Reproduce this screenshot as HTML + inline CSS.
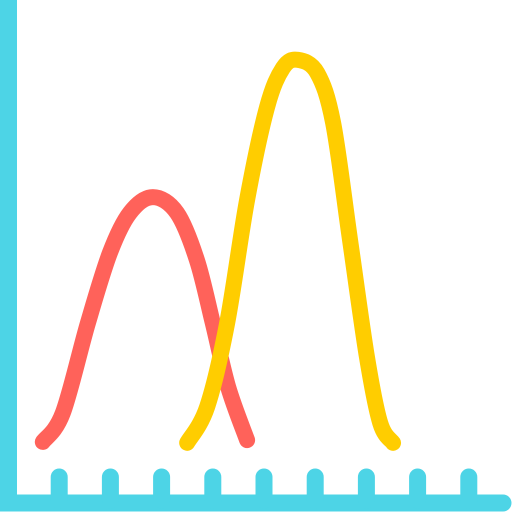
<!DOCTYPE html>
<html><head><meta charset="utf-8"><style>
html,body{margin:0;padding:0;background:#fff;width:512px;height:512px;overflow:hidden}
svg{display:block}
</style></head><body>
<svg id="chart" width="512" height="512" viewBox="0 0 512 512">
  <g id="axes">
    <line x1="8.5" y1="0" x2="8.5" y2="503" stroke="#4DD4E6" stroke-width="17"/>
    <line x1="0" y1="503" x2="503" y2="503" stroke="#4DD4E6" stroke-width="17" stroke-linecap="round"/>
  </g>
  <g id="ticks"></g>
  <g id="series"></g>
</svg>
<script>
const tickValues = [1,2,3,4,5,6,7,8,9];
const redX = [0.68,1.07,1.56,1.99,2.38,2.83,3.30,3.69,4.00,4.30,4.67];
const redY = [11.8,18.2,38.2,53.8,62.7,66.2,62.7,52.2,38.2,24,12.2];
const yellowX = [3.50,3.89,4.28,4.67,5.06,5.37,5.66,6.04,6.35,6.68,7.01,7.27,7.52];
const yellowY = [11.6,19.6,38.2,65.6,86.2,94.9,96.7,93.8,82.7,56.7,30.7,16,11.6];

const NS='http://www.w3.org/2000/svg';
const xS = v => 8 + v*51.2;
const yS = v => 495 - v*4.5;

const tg=document.getElementById('ticks');
tickValues.forEach((t,i)=>{
  const l=document.createElementNS(NS,'line');
  l.setAttribute('x1',xS(t));l.setAttribute('x2',xS(t));
  l.setAttribute('y1',477);l.setAttribute('y2',500);
  l.setAttribute('stroke','#4DD4E6');l.setAttribute('stroke-width','17');l.setAttribute('stroke-linecap','round');
  
  
  tg.appendChild(l);
});

function smooth(xs,ys){
  const p=xs.map((x,i)=>[xS(x),yS(ys[i])]);
  let d='M'+p[0][0]+','+p[0][1];
  for(let i=0;i<p.length-1;i++){
    const p0=p[i-1]||p[i],p1=p[i],p2=p[i+1],p3=p[i+2]||p[i+1];
    const c1=[p1[0]+(p2[0]-p0[0])/6,p1[1]+(p2[1]-p0[1])/6];
    const c2=[p2[0]-(p3[0]-p1[0])/6,p2[1]-(p3[1]-p1[1])/6];
    d+=' C'+c1+' '+c2+' '+p2;
  }
  return d;
}
const sg=document.getElementById('series');
const r=document.createElementNS(NS,'path');
r.setAttribute('d',smooth(redX,redY));
r.setAttribute('fill','none');r.setAttribute('stroke','#FF625A');r.setAttribute('stroke-width','16');r.setAttribute('stroke-linecap','round');r.setAttribute('stroke-linejoin','round');


sg.appendChild(r);
const y=document.createElementNS(NS,'path');
y.setAttribute('d',smooth(yellowX,yellowY));
y.setAttribute('fill','none');y.setAttribute('stroke','#FFCD00');y.setAttribute('stroke-width','16');y.setAttribute('stroke-linecap','round');y.setAttribute('stroke-linejoin','round');


sg.appendChild(y);
</script>
</body></html>
